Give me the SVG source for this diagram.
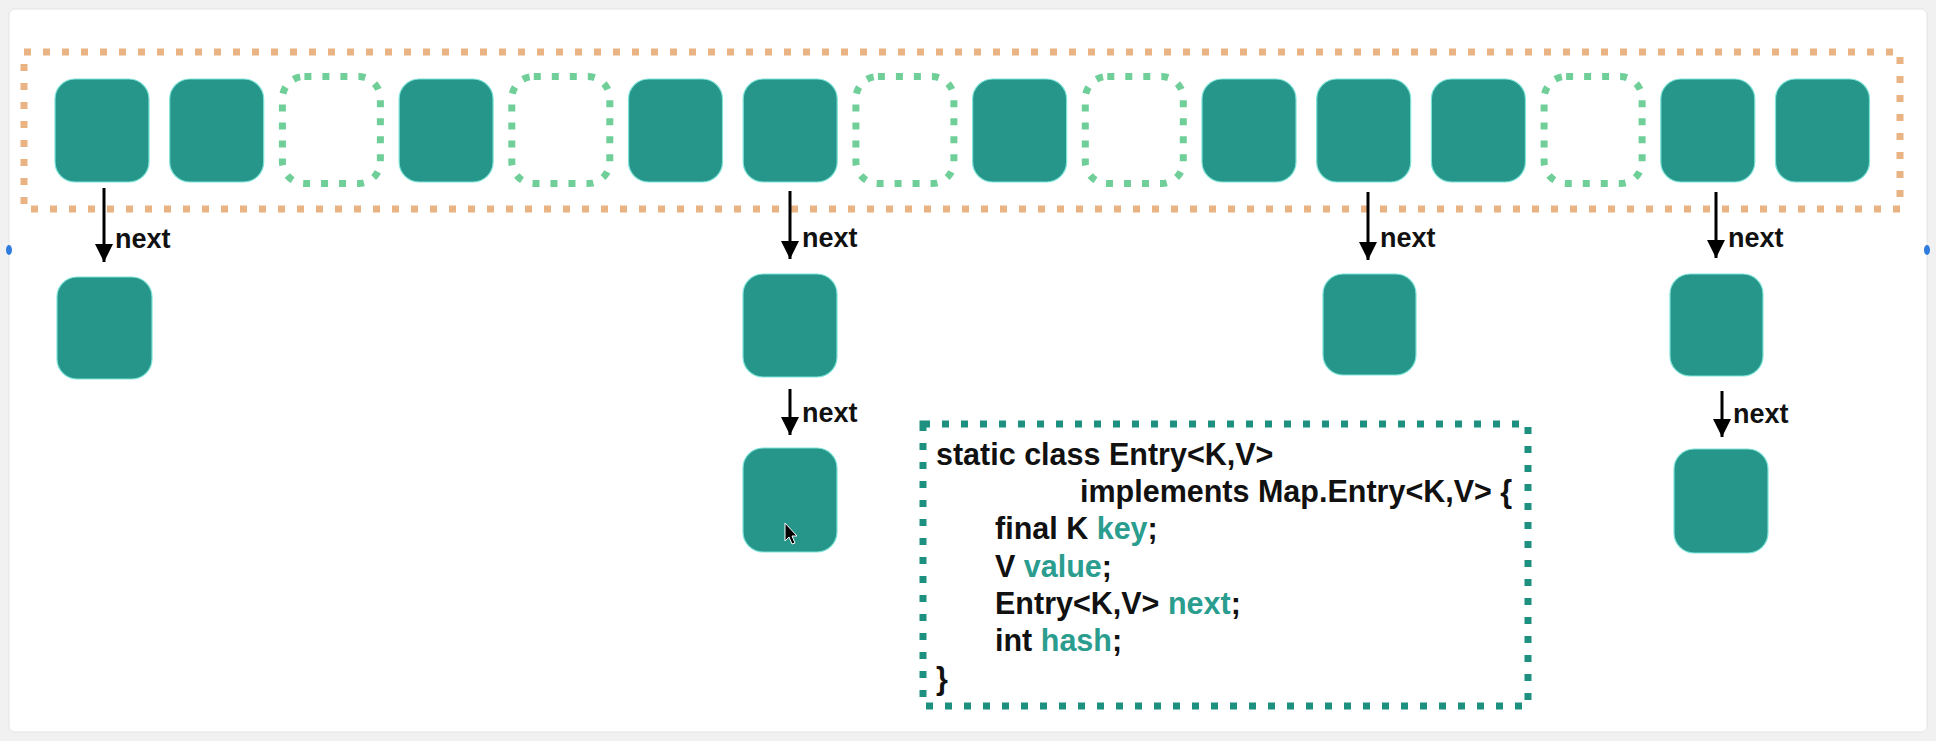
<svg xmlns="http://www.w3.org/2000/svg" width="1936" height="741" viewBox="0 0 1936 741">
<defs>
<style>
.f{fill:#27968A;stroke:#7fe3d7;stroke-width:1.2}
.d{fill:none;stroke:#70CF98;stroke-width:7;stroke-dasharray:7 11}
.lbl{font-family:"Liberation Sans",Arial,sans-serif;font-weight:bold;font-size:27px;fill:#111}
.code{font-family:"Liberation Sans",Arial,sans-serif;font-weight:bold;font-size:30.5px;fill:#111}
.hl{fill:#2A9D8F}
.arr{stroke:#000;stroke-width:3;fill:none;marker-end:url(#ah)}
</style>
<marker id="ah" viewBox="0 0 18 18" refX="18" refY="9" markerWidth="18" markerHeight="18" markerUnits="userSpaceOnUse" orient="auto">
<path d="M0,0 L18,9 L0,18 z" fill="#000"/>
</marker>
</defs>
<rect x="0" y="0" width="1936" height="741" fill="#f1f1f1"/>
<rect x="9" y="9" width="1918" height="723" rx="6" fill="#ffffff" stroke="#e4e4e4" stroke-width="1"/>
<ellipse cx="9" cy="250" rx="3" ry="5" fill="#2F7BE0"/>
<ellipse cx="1927" cy="250" rx="3" ry="5" fill="#2F7BE0"/>
<g id="table">
<rect x="24" y="52" width="1876" height="157" fill="none" stroke="#E9B384" stroke-width="7" stroke-dasharray="7 12"/>
</g>
<g id="bucket0"><rect class="f" x="55" y="79" width="94" height="103" rx="20"/></g>
<g id="bucket1"><rect class="f" x="169.7" y="79" width="94" height="103" rx="20"/></g>
<g id="bucket2"><rect class="d" x="282.4" y="76.5" width="98" height="107" rx="22"/></g>
<g id="bucket3"><rect class="f" x="399.1" y="79" width="94" height="103" rx="20"/></g>
<g id="bucket4"><rect class="d" x="511.8" y="76.5" width="98" height="107" rx="22"/></g>
<g id="bucket5"><rect class="f" x="628.5" y="79" width="94" height="103" rx="20"/></g>
<g id="bucket6"><rect class="f" x="743.2" y="79" width="94" height="103" rx="20"/></g>
<g id="bucket7"><rect class="d" x="855.9" y="76.5" width="98" height="107" rx="22"/></g>
<g id="bucket8"><rect class="f" x="972.6" y="79" width="94" height="103" rx="20"/></g>
<g id="bucket9"><rect class="d" x="1085.3" y="76.5" width="98" height="107" rx="22"/></g>
<g id="bucket10"><rect class="f" x="1202" y="79" width="94" height="103" rx="20"/></g>
<g id="bucket11"><rect class="f" x="1316.7" y="79" width="94" height="103" rx="20"/></g>
<g id="bucket12"><rect class="f" x="1431.4" y="79" width="94" height="103" rx="20"/></g>
<g id="bucket13"><rect class="d" x="1544.1" y="76.5" width="98" height="107" rx="22"/></g>
<g id="bucket14"><rect class="f" x="1660.8" y="79" width="94" height="103" rx="20"/></g>
<g id="bucket15"><rect class="f" x="1775.5" y="79" width="94" height="103" rx="20"/></g>
<g id="entry1"><rect class="f" x="57" y="277" width="95" height="102" rx="20"/></g>
<g id="entry2"><rect class="f" x="743" y="274" width="94" height="103" rx="20"/></g>
<g id="entry3"><rect class="f" x="743" y="448" width="94" height="104" rx="20"/></g>
<g id="entry4"><rect class="f" x="1323" y="274" width="93" height="101" rx="20"/></g>
<g id="entry5"><rect class="f" x="1670" y="274" width="93" height="102" rx="20"/></g>
<g id="entry6"><rect class="f" x="1674" y="449" width="94" height="104" rx="20"/></g>
<g id="connectors">
<line class="arr" x1="104" y1="188" x2="104" y2="262"/>
<text class="lbl" x="115" y="248">next</text>
<line class="arr" x1="790" y1="191" x2="790" y2="259"/>
<text class="lbl" x="802" y="247">next</text>
<line class="arr" x1="1368" y1="192" x2="1368" y2="260"/>
<text class="lbl" x="1380" y="247">next</text>
<line class="arr" x1="1716" y1="192" x2="1716" y2="258"/>
<text class="lbl" x="1728" y="247">next</text>
<line class="arr" x1="790" y1="389" x2="790" y2="435"/>
<text class="lbl" x="802" y="422">next</text>
<line class="arr" x1="1722" y1="391" x2="1722" y2="437"/>
<text class="lbl" x="1733" y="423">next</text>
</g>
<g id="entry-class">
<rect x="923" y="424" width="605" height="282" fill="none" stroke="#1E9080" stroke-width="7" stroke-dasharray="7 12"/>
<text class="code" x="936" y="465">static class Entry&lt;K,V&gt;</text>
<text class="code" x="1080" y="502">implements Map.Entry&lt;K,V&gt; {</text>
<text class="code" x="995" y="539">final K <tspan class="hl">key</tspan>;</text>
<text class="code" x="995" y="577">V <tspan class="hl">value</tspan>;</text>
<text class="code" x="995" y="614">Entry&lt;K,V&gt; <tspan class="hl">next</tspan>;</text>
<text class="code" x="995" y="651">int <tspan class="hl">hash</tspan>;</text>
<text class="code" x="936" y="689">}</text>
</g>
<path d="M785,523 L785,541 L789,537 L792,544 L795,543 L792,536 L797,536 Z" fill="#000" stroke="#fff" stroke-width="1"/>
</svg>
